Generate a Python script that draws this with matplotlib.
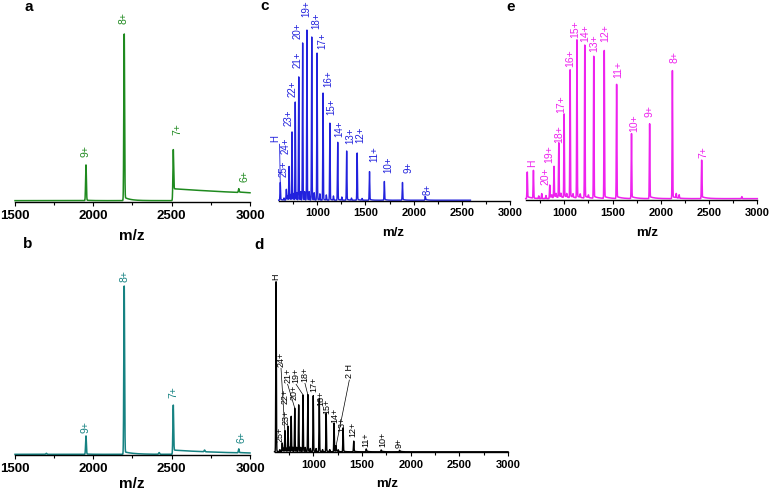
import numpy as np
import matplotlib
matplotlib.use('Agg')
import matplotlib.pyplot as plt
from matplotlib.ticker import MultipleLocator

plt.rcParams['font.family'] = ['Liberation Sans', 'DejaVu Sans']

# ---------------- data ----------------
# panel a (holo, green)
a_labels = ['9+', '8+', '7+', '6+']
a_mz = [1953, 2197, 2510, 2928]
a_height = [21, 98, 23.5, 2.0]
a_tail = [0.3, 2.0, 7.0, 0.3]
a_tail_len = [30, 40, 1100, 100]
a_label_mz = [1953, 2191, 2540, 2968]
a_label_y = [26.5, 105, 39.4, 11.8]

# panel b (teal)
b_labels = ['9+', '8+', '7+', '6+']
b_mz = [1953, 2197, 2510, 2928]
b_height = [10.8, 99, 27, 2.2]
b_tail = [0.2, 1.5, 2.5, 0.2]
b_tail_len = [30, 60, 400, 60]
b_minor_mz = [1700, 2420, 2710]
b_minor_h = [0.6, 1.0, 1.0]
b_label_mz = [1947, 2202, 2510, 2947]
b_label_y = [12.7, 102, 33.3, 6.9]

# panel c (blue)
c_labels = ['H', '25+', '24+', '23+', '22+', '21+', '20+', '19+', '18+', '17+',
            '16+', '15+', '14+', '13+', '12+', '11+', '10+', '9+', '8+']
c_mz = [616, 679, 707, 738, 771.5, 808, 848.5, 893, 942.7, 998,
        1060, 1131, 1212, 1305, 1414, 1542, 1696, 1884, 2120]
c_height = [10, 5.9, 19.4, 40, 57.6, 72.4, 92.4, 100, 95.9, 86.5,
            63, 45.3, 34, 28.8, 27.6, 16.5, 10.6, 10, 1.8]
c_minor_mz = [655, 692, 722, 754, 789, 827, 869, 916, 968, 1027, 1094, 1168, 1255, 1355, 1465]
c_minor_h = [1.2, 2.4, 3, 3.6, 4.2, 4.8, 4.8, 4.8, 4.2, 3.6, 3, 2.4, 1.8, 1.2, 1]
c_label_mz = [569, 648, 672, 707, 745, 793, 800, 890, 993, 1051,
              1114, 1149, 1224, 1338, 1452, 1590, 1735, 1949, 2149]
c_label_y = [34.7, 14.1, 27.5, 44, 61.2, 77.9, 95, 108, 101, 89,
             67, 50.4, 37.6, 33.4, 33.8, 23, 16.1, 16.1, 3.4]

# panel d (black)
d_labels = ['H', '25+', '24+', '23+', '22+', '21+', '20+', '19+', '18+', '17+',
            '16+', '15+', '14+', '13+', '12+', '11+', '10+', '9+', '2 H']
d_mz = [616, 679, 707, 738, 771.5, 808, 848.5, 893, 942.7, 998,
        1060, 1131, 1212, 1305, 1414, 1542, 1696, 1884, 1232]
d_height = [100, 4.7, 12, 14.7, 20.6, 25.5, 27.5, 33.3, 33.3, 33,
            31.4, 22.5, 16.7, 13.7, 5.9, 1.2, 0.6, 0.4, 3]
d_minor_mz = [655, 692, 722, 754, 789, 827, 869, 916, 968, 1027, 1094, 1168, 1255]
d_minor_h = [1.2, 1.8, 1.8, 2.4, 2.4, 2.4, 2.4, 2.4, 1.8, 1.8, 1.2, 1.2, 1]
d_label_mz = [615, 660, 667, 715, 705, 735, 800, 822, 913, 1003,
              1075, 1140, 1222, 1297, 1404, 1540, 1718, 1880, 1369]
d_label_y = [101.4, 6.3, 50.4, 16, 28.5, 41, 30.8, 41, 41.6, 35.5,
             27.5, 22.5, 17, 12.1, 9.2, 3.3, 3.3, 2.3, 43.5]
d_leaders = ['24+', '21+', '19+', '18+', '2 H']

# panel e (magenta)
e_labels = ['H', '20+', '19+', '18+', '17+', '16+', '15+', '14+', '13+', '12+',
            '11+', '10+', '9+', '8+', '7+']
e_mz = [616, 848.5, 893, 942.7, 998, 1060, 1131, 1212, 1305, 1414,
        1542, 1696, 1884, 2120, 2423]
e_height = [14.7, 6.9, 17.6, 31.2, 48.8, 75.3, 93, 90, 83.5, 87,
            67, 37.6, 43.5, 75.3, 21.8]
e_minor_mz = [680, 735, 766, 810, 870, 915, 965, 1025, 1090, 1165, 1250, 2160, 2190, 2840]
e_minor_h = [16.3, 1.5, 2.9, 1.8, 1.5, 2, 2, 2, 2, 2, 1.5, 2.5, 2, 1.2]
e_label_mz = [662, 800, 845, 948, 963, 1059, 1118, 1216, 1308, 1425,
              1556, 1722, 1888, 2147, 2437]
e_label_y = [19.6, 8.8, 21.6, 33.3, 51, 78.4, 95, 93, 87.3, 93,
             71.6, 40.2, 49, 80.4, 24.5]

# ---------------- helpers ----------------
W, H = 774, 496
fig = plt.figure(figsize=(W / 100, H / 100), dpi=100)


def make_axes(x0, x1, base, top):
    return fig.add_axes([x0 / W, 1 - base / H, (x1 - x0) / W, (base - top) / H])


def spectrum(x, mz, h, sigma, tails=None, tail_len=None, base=0.0):
    y = np.full_like(x, base)
    for i, (m, a) in enumerate(zip(mz, h)):
        y += a * np.exp(-0.5 * ((x - m) / sigma) ** 2)
        if tails is not None:
            d = x - m
            y += np.where(d > 0, tails[i] * np.exp(-np.clip(d, 0, None) / tail_len[i]), 0.0)
    return y


def style(ax, xlim, ticks, fs):
    ax.set_xlim(*xlim)
    ax.set_ylim(0, 100)
    for s in ['left', 'top', 'right']:
        ax.spines[s].set_visible(False)
    ax.spines['bottom'].set_linewidth(1.0)
    ax.set_yticks([])
    ax.set_xticks(ticks)
    ax.xaxis.set_minor_locator(MultipleLocator(250))
    ax.tick_params(axis='x', which='major', direction='out', length=3, width=0.8,
                   pad=2.5, labelsize=fs)
    ax.tick_params(axis='x', which='minor', direction='out', length=2, width=0.8)
    for lab in ax.get_xticklabels():
        lab.set_fontweight('bold')
    ax.patch.set_alpha(0)


def put_labels(ax, labels, lx, ly, color, fs):
    for t, x, y in zip(labels, lx, ly):
        ax.text(x, y, t, rotation=90, ha='center', va='bottom', color=color,
                fontsize=fs, clip_on=False)


# ---------------- panel a ----------------
col_a = '#1f8a1f'
ax = make_axes(15, 250, 202, 32)
x = np.arange(1500, 3000.01, 0.5)
y = spectrum(x, a_mz, a_height, 2.5, a_tail, a_tail_len, base=0.8)
ax.plot(x, y, color=col_a, lw=1.1, clip_on=False)
style(ax, (1500, 3000), [1500, 2000, 2500, 3000], 9.5)
put_labels(ax, a_labels, a_label_mz, a_label_y, col_a, 7.5)

# ---------------- panel b ----------------
col_b = '#168282'
ax = make_axes(15, 250, 455, 285)
y = spectrum(x, b_mz, b_height, 2.5, b_tail, b_tail_len, base=0.4)
y += spectrum(x, b_minor_mz, b_minor_h, 3)
ax.plot(x, y, color=col_b, lw=1.1, clip_on=False)
style(ax, (1500, 3000), [1500, 2000, 2500, 3000], 9.5)
put_labels(ax, b_labels, b_label_mz, b_label_y, col_b, 7.5)

# ---------------- panel c ----------------
col_c = '#2222dd'
ax = make_axes(278.7, 510, 200.7, 30.7)
xc = np.arange(600, 2590, 0.5)
y = spectrum(xc, c_mz, c_height, 2.8, [0.6] * len(c_mz), [20] * len(c_mz), base=0.3)
y += spectrum(xc, c_minor_mz, c_minor_h, 2.5)
ax.plot(xc, y, color=col_c, lw=1.0, clip_on=False)
style(ax, (600, 3000), [1000, 1500, 2000, 2500, 3000], 8)
put_labels(ax, c_labels, c_label_mz, c_label_y, col_c, 7)
ax.plot([c_label_mz[0] + 40, c_mz[0]], [c_label_y[0] - 1.5, c_height[0] + 1],
        color=col_c, lw=0.6, clip_on=False)

# ---------------- panel d ----------------
col_d = '#000000'
ax = make_axes(274.5, 508, 452.3, 282.3)
xd = np.arange(600, 3000.01, 0.5)
y = spectrum(xd, d_mz, d_height, 2.8, [0.5] * len(d_mz), [20] * len(d_mz), base=0.3)
y += spectrum(xd, d_minor_mz, d_minor_h, 2.5)
ax.plot(xd, y, color=col_d, lw=1.0, clip_on=False)
style(ax, (600, 3000), [1000, 1500, 2000, 2500, 3000], 8)
put_labels(ax, d_labels, d_label_mz, d_label_y, col_d, 6.5)
for lab in d_leaders:
    i = d_labels.index(lab)
    ax.plot([d_label_mz[i], d_mz[i]], [d_label_y[i] - 1, d_height[i] + 0.5],
            color=col_d, lw=0.5, clip_on=False)

# ---------------- panel e ----------------
col_e = '#ee22ee'
ax = make_axes(525.7, 757.3, 200, 30)
xe = np.arange(600, 3000.01, 0.5)
y = spectrum(xe, e_mz, e_height, 2.8, [1.2] * len(e_mz), [50] * len(e_mz), base=0.8)
y += spectrum(xe, e_minor_mz, e_minor_h, 3)
ax.plot(xe, y, color=col_e, lw=1.1, clip_on=False)
style(ax, (600, 3000), [1000, 1500, 2000, 2500, 3000], 8)
put_labels(ax, e_labels, e_label_mz, e_label_y, col_e, 7.5)

# ---------------- axis titles & panel letters ----------------
for (xp, yp, fs) in [(132, 236, 11), (132, 484, 11), (393, 233, 9.5),
                     (387, 484, 9.5), (647, 233, 9.5)]:
    fig.text(xp / W, 1 - yp / H, 'm/z', ha='center', va='center',
             fontweight='bold', fontsize=fs)

for (t, xp, yp) in [('a', 29, 7), ('b', 28, 244), ('c', 265, 6), ('d', 259, 245), ('e', 511, 7)]:
    fig.text(xp / W, 1 - yp / H, t, ha='center', va='center',
             fontweight='bold', fontsize=11)

fig.savefig('out.png', dpi=100)
